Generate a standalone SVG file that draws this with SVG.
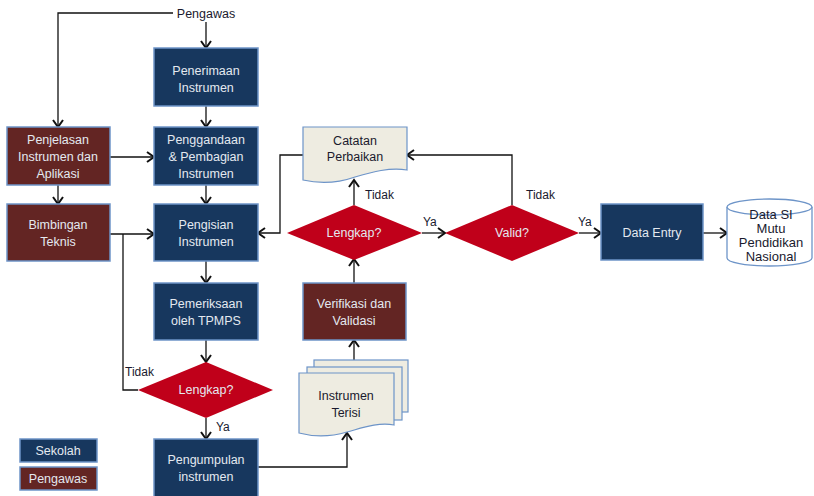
<svg xmlns="http://www.w3.org/2000/svg" width="814" height="496" viewBox="0 0 814 496">
<style>
.nv{fill:#17375e;stroke:#6d94c8;stroke-width:1.5}
.mr{fill:#632523;stroke:#6d94c8;stroke-width:1.5}
.dm{fill:#c0001a;stroke:none}
.dc{fill:#eeece1;stroke:#6d94c8;stroke-width:1.2}
.wt{font-family:"Liberation Sans",Arial,sans-serif;font-size:12.5px;fill:#e4e9f0;text-anchor:middle}
.dk{font-family:"Liberation Sans",Arial,sans-serif;font-size:12px;fill:#1a1a2e}
.dkc{font-family:"Liberation Sans",Arial,sans-serif;font-size:12.5px;fill:#1a1a2e;text-anchor:middle}
.ln{fill:none;stroke:#111;stroke-width:1.3}
.ar{fill:none;stroke:#111;stroke-width:1.3;marker-end:url(#a)}
</style>
<defs>
<marker id="a" markerWidth="12" markerHeight="12" refX="9" refY="6" orient="auto" markerUnits="userSpaceOnUse">
<path d="M2,1 L9,6 L2,11" fill="none" stroke="#111" stroke-width="2"/>
</marker>
</defs>
<rect width="814" height="496" fill="#fff"/>

<g id="connectors">
<polyline class="ar" points="173,13 58,13 58,127"/>
<line class="ar" x1="206" y1="22" x2="206" y2="48"/>
<line class="ar" x1="206" y1="106" x2="206" y2="127"/>
<line class="ar" x1="110" y1="157" x2="154" y2="157"/>
<line class="ar" x1="206" y1="185" x2="206" y2="204"/>
<line class="ar" x1="58" y1="185" x2="58" y2="204"/>
<line class="ar" x1="110" y1="234" x2="154" y2="234"/>
<polyline class="ln" points="123,234 123,390 138,390"/>
<line class="ar" x1="206" y1="261" x2="206" y2="283"/>
<line class="ar" x1="206" y1="340" x2="206" y2="362"/>
<line class="ar" x1="206" y1="418" x2="206" y2="439"/>
<polyline class="ar" points="258,467 347,467 347,433"/>
<line class="ar" x1="354" y1="360" x2="354" y2="340"/>
<line class="ar" x1="354" y1="283" x2="354" y2="259"/>
<line class="ar" x1="354" y1="205" x2="354" y2="180"/>
<polyline class="ar" points="303,155 280,155 280,233 258,233"/>
<line class="ar" x1="422" y1="233" x2="445" y2="233"/>
<polyline class="ar" points="512,205 512,155 407,155"/>
<line class="ar" x1="579" y1="233" x2="601" y2="233"/>
<line class="ar" x1="703" y1="233" x2="727" y2="233"/>
<text class="dk" x="125" y="376">Tidak</text>
<text class="dk" x="216" y="431">Ya</text>
<text class="dk" x="365" y="199">Tidak</text>
<text class="dk" x="423" y="226">Ya</text>
<text class="dk" x="526" y="199">Tidak</text>
<text class="dk" x="578" y="226">Ya</text>
</g>

<g id="pengawas-label"><text class="dkc" x="206" y="18">Pengawas</text></g>

<g id="penerimaan"><rect class="nv" x="154" y="48" width="104" height="58"/>
<text class="wt" x="206" y="75">Penerimaan</text><text class="wt" x="206" y="92">Instrumen</text></g>

<g id="penjelasan"><rect class="mr" x="7" y="127" width="103" height="58"/>
<text class="wt" x="58" y="144">Penjelasan</text><text class="wt" x="58" y="161">Instrumen dan</text><text class="wt" x="58" y="178">Aplikasi</text></g>

<g id="penggandaan"><rect class="nv" x="154" y="127" width="104" height="58"/>
<text class="wt" x="206" y="144">Penggandaan</text><text class="wt" x="206" y="161">&amp; Pembagian</text><text class="wt" x="206" y="178">Instrumen</text></g>

<g id="bimbingan"><rect class="mr" x="7" y="204" width="103" height="57"/>
<text class="wt" x="58" y="229">Bimbingan</text><text class="wt" x="58" y="246">Teknis</text></g>

<g id="pengisian"><rect class="nv" x="154" y="204" width="104" height="57"/>
<text class="wt" x="206" y="229">Pengisian</text><text class="wt" x="206" y="246">Instrumen</text></g>

<g id="pemeriksaan"><rect class="nv" x="154" y="283" width="104" height="57"/>
<text class="wt" x="206" y="308">Pemeriksaan</text><text class="wt" x="206" y="325">oleh TPMPS</text></g>

<g id="lengkap1"><polygon class="dm" points="206,362 273,390 206,418 138,390"/>
<text class="wt" x="206" y="394">Lengkap?</text></g>

<g id="pengumpulan"><rect class="nv" x="154" y="439" width="104" height="58"/>
<text class="wt" x="206" y="464">Pengumpulan</text><text class="wt" x="206" y="481">instrumen</text></g>

<g id="instrumen-terisi">
<rect class="dc" x="314" y="360" width="94" height="52"/>
<rect class="dc" x="307" y="367" width="95" height="53"/>
<path class="dc" d="M299,373 H394 V425 C378,422 362,428 347,432 C330,437 314,437 299,433 Z"/>
<text class="dkc" x="346" y="400">Instrumen</text><text class="dkc" x="346" y="417">Terisi</text></g>

<g id="verifikasi"><rect class="mr" x="303" y="283" width="103" height="57"/>
<text class="wt" x="354" y="308">Verifikasi dan</text><text class="wt" x="354" y="325">Validasi</text></g>

<g id="lengkap2"><polygon class="dm" points="354,205 422,233 354,260 287,233"/>
<text class="wt" x="354" y="237">Lengkap?</text></g>

<g id="catatan"><path class="dc" d="M303,127 H407 V170 C390,167 372,172 355,177 C338,183 320,184 303,180 Z"/>
<text class="dkc" x="355" y="145">Catatan</text><text class="dkc" x="355" y="161">Perbaikan</text></g>

<g id="valid"><polygon class="dm" points="512,205 579,233 512,261 445,233"/>
<text class="wt" x="512" y="237">Valid?</text></g>

<g id="data-entry"><rect class="nv" x="601" y="204" width="102" height="56"/>
<text class="wt" x="652" y="237">Data Entry</text></g>

<g id="database">
<path d="M727,207 V258 A42.5,8 0 0 0 812,258 V207" fill="#fff" stroke="#6d94c8" stroke-width="1.3"/>
<ellipse cx="769.5" cy="207" rx="42.5" ry="8" fill="#fff" stroke="#6d94c8" stroke-width="1.3"/>
<text class="dkc" x="771" y="219" style="font-size:13px">Data SI</text><text class="dkc" x="771" y="233" style="font-size:13px">Mutu</text><text class="dkc" x="771" y="247" style="font-size:13px">Pendidikan</text><text class="dkc" x="771" y="261" style="font-size:13px">Nasional</text></g>

<g id="legend-sekolah"><rect class="nv" x="20" y="439" width="77" height="23"/>
<text class="wt" x="58" y="455">Sekolah</text></g>
<g id="legend-pengawas"><rect class="mr" x="20" y="467" width="77" height="23"/>
<text class="wt" x="58" y="483">Pengawas</text></g>
</svg>
